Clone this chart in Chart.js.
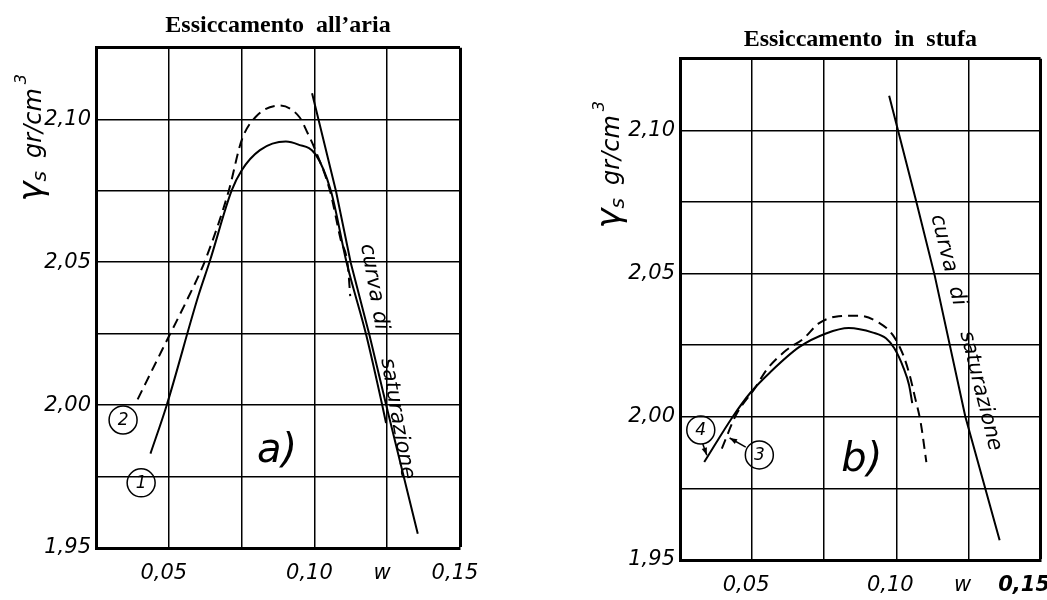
<!DOCTYPE html>
<html><head><meta charset="utf-8">
<script src="https://cdn.jsdelivr.net/npm/chart.js@4.4.1/dist/chart.umd.min.js"></script>
<style>
html,body{margin:0;padding:0;background:#fff;overflow:hidden;width:1047px;height:600px}
#wrapA{position:absolute;left:0;top:0;width:530px;height:600px}
#wrapB{position:absolute;left:530px;top:0;width:560px;height:600px}
</style></head><body>
<div id="wrapA"><canvas id="chartA"></canvas></div>
<div id="wrapB"><canvas id="chartB"></canvas></div>
<script>
// ---- tick labels ----
const xTickValues = [0.05, 0.10, 0.125, 0.15];
const xTickText   = ['0,05', '0,10', 'w', '0,15'];
const yTickValues = [1.95, 2.00, 2.05, 2.10];
const yTickText   = ['1,95', '2,00', '2,05', '2,10'];

// ---- titles ----
const titleA = 'Essiccamento  all\u2019aria';
const titleB = 'Essiccamento  in  stufa';

// ---- a) Essiccamento all'aria ----
const curve1W   = [0.0437, 0.0492, 0.0602, 0.0641, 0.0716, 0.0750, 0.0813, 0.0902, 0.0943, 0.1004, 0.1057, 0.1111, 0.1178, 0.1235, 0.1246];
const curve1Rho = [1.9830, 1.9997, 2.0384, 2.0504, 2.0751, 2.0821, 2.0892, 2.0922, 2.0912, 2.0877, 2.0748, 2.0497, 2.0245, 1.9990, 1.9937];
const curve2W   = [0.0393, 0.0479, 0.0565, 0.0624, 0.0706, 0.0750, 0.0798, 0.0880, 0.0949, 0.0977, 0.1002, 0.1054, 0.1090, 0.1115, 0.1123];
const curve2Rho = [2.0020, 2.0197, 2.0373, 2.0504, 2.0750, 2.0926, 2.1008, 2.1048, 2.1007, 2.0951, 2.0895, 2.0748, 2.0580, 2.0486, 2.0381];
const satAW     = [0.0992, 0.1074, 0.1125, 0.1189, 0.1249, 0.1355];
const satARho   = [2.1091, 2.0749, 2.0497, 2.0245, 1.9990, 1.9550];

// ---- b) Essiccamento in stufa ----
const curve4W   = [0.0334, 0.0434, 0.0494, 0.0562, 0.0664, 0.0756, 0.0835, 0.0919, 0.0964, 0.0993, 0.1025, 0.1044, 0.1055];
const curve4Rho = [1.9842, 2.0002, 2.0084, 2.0155, 2.0244, 2.0291, 2.0310, 2.0294, 2.0274, 2.0239, 2.0170, 2.0111, 2.0048];
const curve3W   = [0.0395, 0.0444, 0.0511, 0.0551, 0.0619, 0.0677, 0.0731, 0.0800, 0.0869, 0.0939, 0.0988, 0.1024, 0.1046, 0.1065, 0.1084, 0.1104];
const curve3Rho = [1.9889, 2.0006, 2.0102, 2.0165, 2.0233, 2.0272, 2.0326, 2.0351, 2.0353, 2.0329, 2.0285, 2.0215, 2.0146, 2.0066, 1.9982, 1.9842];
const satBW     = [0.0975, 0.1069, 0.1133, 0.1239, 0.1358];
const satBRho   = [2.1121, 2.0752, 2.0493, 2.0001, 1.9569];

const satText = ['curva', 'di', 'saturazione'];
const yTitleParts = ['\u03b3', 's', 'gr/cm', '3'];

function pts(ws, rs) { return ws.map((w, i) => ({x: w, y: rs[i]})); }
function findIdx(arr, v) { return arr.findIndex(a => Math.abs(a - v) < 1e-6); }

Chart.defaults.color = '#000';

const decorPlugin = {
  id: 'decor',
  afterDraw(chart, args, o) {
    const ctx = chart.ctx, xs = chart.scales.x, ys = chart.scales.y, ca = chart.chartArea;
    const px = w => xs.getPixelForValue(w), py = r => ys.getPixelForValue(r);
    ctx.save();
    ctx.fillStyle = '#000'; ctx.strokeStyle = '#000';
    // y axis title  (gamma_s gr/cm^3), rotated, reading upward
    ctx.save();
    ctx.translate(ca.left + o.yTitle.dx, ca.top + o.yTitle.dy);
    ctx.rotate(-Math.PI / 2);
    const styles = [
      {f: 'italic 34px "DejaVu Sans"', b: 10, gap: 0},
      {f: 'italic 20px "DejaVu Sans"', b: 14, gap: 13},
      {f: 'italic 24px "DejaVu Sans"', b: 9, gap: 4},
      {f: 'italic 16px "DejaVu Sans"', b: -6, gap: 0}
    ];
    let total = 0;
    styles.forEach((s, i) => { ctx.font = s.f; s.w = ctx.measureText(yTitleParts[i]).width; total += s.w + s.gap; });
    let cx = -total / 2;
    ctx.textAlign = 'left'; ctx.textBaseline = 'alphabetic';
    styles.forEach((s, i) => { ctx.font = s.f; ctx.fillText(yTitleParts[i], cx, s.b); cx += s.w + s.gap; });
    ctx.restore();
    // circled curve numbers
    ctx.lineWidth = 1.5;
    o.circles.forEach(c => {
      const x = px(c.w), y = py(c.r);
      ctx.beginPath(); ctx.arc(x, y, 14, 0, Math.PI * 2); ctx.stroke();
      ctx.font = 'italic 17px "DejaVu Sans"'; ctx.textAlign = 'center'; ctx.textBaseline = 'middle';
      ctx.fillText(c.t, x, y + 1);
    });
    // arrows
    (o.arrows || []).forEach(a => {
      const x1 = px(a.from[0]), y1 = py(a.from[1]), x2 = px(a.to[0]), y2 = py(a.to[1]);
      ctx.lineWidth = 1.5;
      ctx.beginPath(); ctx.moveTo(x1, y1); ctx.lineTo(x2, y2); ctx.stroke();
      const ang = Math.atan2(y2 - y1, x2 - x1);
      ctx.beginPath();
      ctx.moveTo(x2, y2);
      ctx.lineTo(x2 - 8 * Math.cos(ang - 0.35), y2 - 8 * Math.sin(ang - 0.35));
      ctx.lineTo(x2 - 8 * Math.cos(ang + 0.35), y2 - 8 * Math.sin(ang + 0.35));
      ctx.closePath(); ctx.fill();
    });
    // panel label
    ctx.font = 'italic 40px "DejaVu Sans"'; ctx.textAlign = 'center'; ctx.textBaseline = 'middle';
    ctx.fillText(o.panel.t, px(o.panel.w), py(o.panel.r));
    // saturation curve label
    ctx.save();
    ctx.translate(px(o.sat.w), py(o.sat.r));
    ctx.rotate(o.sat.angle * Math.PI / 180);
    ctx.font = 'italic 21px "DejaVu Sans"'; ctx.textAlign = 'left'; ctx.textBaseline = 'alphabetic';
    satText.forEach((t, i) => ctx.fillText(t, o.sat.offsets[i], 0));
    ctx.restore();
    ctx.restore();
  }
};

function makeChart(id, cfg) {
  const lineDs = (data, dashed, straight) => ({
    data, showLine: true, pointRadius: 0, borderColor: '#000', backgroundColor: '#000',
    borderWidth: 2, borderDash: dashed ? [10, 6] : [], fill: false,
    cubicInterpolationMode: straight ? 'default' : 'monotone', tension: 0
  });
  return new Chart(document.getElementById(id), {
    type: 'scatter',
    data: {
      datasets: [
        lineDs(cfg.solid, false, false),
        lineDs(cfg.dashed, true, false),
        lineDs(cfg.sat, false, true)
      ]
    },
    plugins: [decorPlugin],
    options: {
      responsive: true, maintainAspectRatio: false, animation: false,
      layout: {padding: {left: 0, right: cfg.padRight, top: 0, bottom: 0}},
      plugins: {
        legend: {display: false}, tooltip: {enabled: false},
        title: {
          display: true, text: cfg.title, fullSize: false, color: '#000',
          font: {family: '"Liberation Serif", "DejaVu Serif", serif', size: 24, weight: 'bold'},
          padding: {top: cfg.titleTop, bottom: cfg.titleBottom}
        },
        decor: cfg.decor
      },
      scales: {
        x: {
          type: 'linear', min: 0.025, max: 0.15,
          afterFit: s => { s.height = cfg.xHeight; },
          border: {display: true, color: '#000', width: 3},
          grid: {color: '#000', drawTicks: false, lineWidth: c => (c.index === 5 ? 3 : 1.5)},
          ticks: {
            stepSize: 0.025, autoSkip: false, maxRotation: 0, padding: 13, labelOffset: cfg.labelOffset,
            color: '#000',
            font: c => ({family: '"DejaVu Sans"', style: 'italic', size: 21,
              weight: (cfg.boldLast && c.tick && Math.abs(c.tick.value - 0.15) < 1e-6) ? 'bold' : 'normal'}),
            callback: v => {
              const i = findIdx(xTickValues, v);
              if (i < 0) return '';
              return (cfg.boldLast && i === 3) ? xTickText[i] + '\u2003' : xTickText[i];
            }
          }
        },
        y: {
          type: 'linear', min: 1.95, max: 2.125,
          afterFit: s => { s.width = cfg.yWidth; },
          border: {display: true, color: '#000', width: 3},
          grid: {color: '#000', drawTicks: false, lineWidth: c => (c.index === 7 ? 3 : 1.5)},
          ticks: {
            stepSize: 0.025, autoSkip: false, padding: 5, color: '#000',
            font: {family: '"DejaVu Sans"', style: 'italic', size: 21},
            callback: v => { const i = findIdx(yTickValues, v); return i < 0 ? '' : yTickText[i]; }
          }
        }
      }
    }
  });
}

makeChart('chartA', {
  title: titleA, solid: pts(curve1W, curve1Rho), dashed: pts(curve2W, curve2Rho), sat: pts(satAW, satARho),
  padRight: 70, yWidth: 96, xHeight: 52, titleTop: 11, titleBottom: 8, labelOffset: -5, boldLast: false,
  decor: {
    yTitle: {dx: -64, dy: 90},
    circles: [{t: '2', w: 0.0343, r: 1.9948}, {t: '1', w: 0.0405, r: 1.9728}],
    panel: {t: 'a)', w: 0.0872, r: 1.9836},
    sat: {w: 0.1160, r: 2.0560, angle: 80, offsets: [0, 68, 116]}
  }
});

makeChart('chartB', {
  title: titleB, solid: pts(curve4W, curve4Rho), dashed: pts(curve3W, curve3Rho), sat: pts(satBW, satBRho),
  padRight: 47, yWidth: 150, xHeight: 40, titleTop: 25, titleBottom: 5, labelOffset: -6, boldLast: true,
  decor: {
    yTitle: {dx: -70, dy: 106},
    circles: [{t: '4', w: 0.0322, r: 1.9954}, {t: '3', w: 0.0525, r: 1.9867}],
    arrows: [{from: [0.0329, 1.9905], to: [0.0343, 1.9866]}, {from: [0.0478, 1.9894], to: [0.0422, 1.9926]}],
    panel: {t: 'b)', w: 0.0880, r: 1.9846},
    sat: {w: 0.1121, r: 2.0700, angle: 76, offsets: [0, 74, 120]}
  }
});
</script>
</body></html>
